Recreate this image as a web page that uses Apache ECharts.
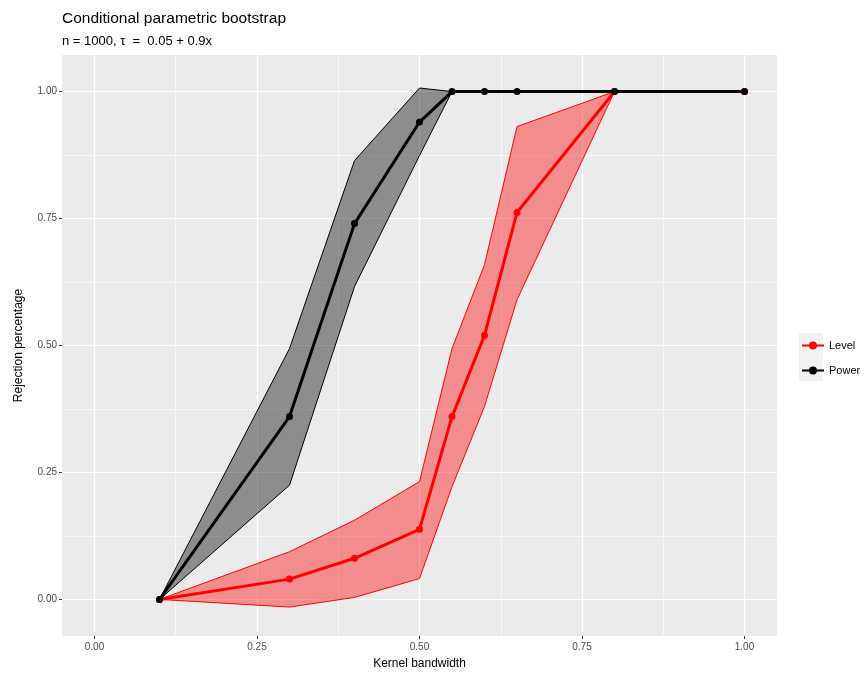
<!DOCTYPE html>
<html>
<head>
<meta charset="utf-8">
<script src="https://cdn.jsdelivr.net/npm/echarts@6/dist/echarts.min.js"></script>
<style>html,body{margin:0;padding:0;background:#fff}#c{width:865px;height:675px}</style>
</head>
<body>
<div id="c"></div>
<script>
// ---- data ----
const bandwidth = [0.1, 0.3, 0.4, 0.5, 0.55, 0.6, 0.65, 0.8, 1.0];
const levelMean  = [0, 0.04, 0.081, 0.138, 0.36, 0.52, 0.762, 1, 1];
const levelLower = [0, -0.015, 0.004, 0.041, 0.222, 0.38, 0.59, 1, 1];
const levelUpper = [0, 0.094, 0.156, 0.232, 0.494, 0.659, 0.931, 1, 1];
const powerMean  = [0, 0.36, 0.74, 0.94, 1, 1, 1, 1, 1];
const powerLower = [0, 0.225, 0.616, 0.874, 1, 1, 1, 1, 1];
const powerUpper = [0, 0.494, 0.864, 1.007, 1, 1, 1, 1, 1];
const xMajor = [0, 0.25, 0.5, 0.75, 1];
const xMinor = [0.125, 0.375, 0.625, 0.875];
const yMajor = [0, 0.25, 0.5, 0.75, 1];
const yMinor = [0.125, 0.375, 0.625, 0.875];

const font = 'Liberation Sans, Arial, Helvetica, sans-serif';

function band(xs, lo, hi, fill, stroke) {
  const pts = xs.map((x, i) => [x, hi[i]]).concat(xs.map((x, i) => [x, lo[i]]).reverse());
  return {
    type: 'custom', silent: true, z: 1,
    data: pts,
    renderItem: function (params, api) {
      if (params.dataIndex !== 0) return null;
      return {
        type: 'polygon',
        shape: { points: pts.map(p => api.coord(p)) },
        style: { fill: fill, stroke: stroke, lineWidth: 1 }
      };
    }
  };
}
function line(name, xs, ys, color, z) {
  return {
    type: 'line', name: name, z: z,
    data: xs.map((x, i) => [x, ys[i]]),
    lineStyle: { width: 3, color: color },
    itemStyle: { color: color },
    symbol: 'circle', symbolSize: 7, showSymbol: true,
    animation: false
  };
}

const chart = echarts.init(document.getElementById('c'), null, { renderer: 'canvas' });
chart.setOption({
  animation: false,
  backgroundColor: '#ffffff',
  textStyle: { fontFamily: font },
  title: [
    { text: 'Conditional parametric bootstrap', left: 57, top: 6,
      textStyle: { fontFamily: font, fontSize: 15.5, fontWeight: 'normal', color: '#000' } },
    { text: 'n = 1000, τ  =  0.05 + 0.9x', left: 57, top: 30,
      textStyle: { fontFamily: font, fontSize: 13, fontWeight: 'normal', color: '#000' } }
  ],
  grid: { left: 62, right: 88, top: 55, bottom: 39, show: true, backgroundColor: '#EBEBEB', borderWidth: 0 },
  xAxis: [
    { type: 'value', min: -0.05, max: 1.05, position: 'bottom',
      name: 'Kernel bandwidth', nameLocation: 'middle', nameGap: 22,
      nameTextStyle: { fontFamily: font, fontSize: 12, color: '#000' },
      axisLine: { show: false, onZero: false },
      axisTick: { show: true, customValues: xMajor, length: 3, lineStyle: { color: '#333', width: 1 } },
      axisLabel: { customValues: xMajor, formatter: v => v.toFixed(2), color: '#4D4D4D', fontSize: 10, margin: 6, fontFamily: font },
      splitLine: { show: true, lineStyle: { color: '#fff', width: 1.2 } }
    },
    { type: 'value', min: -0.05, max: 1.05, show: true, position: 'bottom',
      axisLine: { show: false, onZero: false }, axisLabel: { show: false },
      axisTick: { show: false, customValues: xMinor },
      splitLine: { show: true, lineStyle: { color: '#fff', width: 0.6 } }
    }
  ],
  yAxis: [
    { type: 'value', min: -0.072, max: 1.072, position: 'left',
      name: 'Rejection percentage', nameLocation: 'middle', nameGap: 37, nameRotate: 90,
      nameTextStyle: { fontFamily: font, fontSize: 12, color: '#000' },
      axisLine: { show: false, onZero: false },
      axisTick: { show: true, customValues: yMajor, length: 3, lineStyle: { color: '#333', width: 1 } },
      axisLabel: { customValues: yMajor, formatter: v => v.toFixed(2), color: '#4D4D4D', fontSize: 10, margin: 5, fontFamily: font },
      splitLine: { show: true, lineStyle: { color: '#fff', width: 1.2 } }
    },
    { type: 'value', min: -0.072, max: 1.072, show: true, position: 'left',
      axisLine: { show: false, onZero: false }, axisLabel: { show: false },
      axisTick: { show: false, customValues: yMinor },
      splitLine: { show: true, lineStyle: { color: '#fff', width: 0.6 } }
    }
  ],
  legend: {
    data: ['Level', 'Power'], orient: 'vertical', left: 796, top: 335,
    itemWidth: 22, itemHeight: 10, itemGap: 14,
    textStyle: { fontFamily: font, fontSize: 11, color: '#000' }
  },
  graphic: [
    { type: 'rect', left: 799, top: 333, shape: { width: 24, height: 48 }, style: { fill: '#F2F2F2' }, z: -1 }
  ],
  series: [
    band(bandwidth, levelLower, levelUpper, 'rgba(255,0,0,0.4)', '#ff0000'),
    band(bandwidth, powerLower, powerUpper, 'rgba(0,0,0,0.4)', '#000000'),
    line('Level', bandwidth, levelMean, '#ff0000', 3),
    line('Power', bandwidth, powerMean, '#000000', 4)
  ]
});
</script>
</body>
</html>
